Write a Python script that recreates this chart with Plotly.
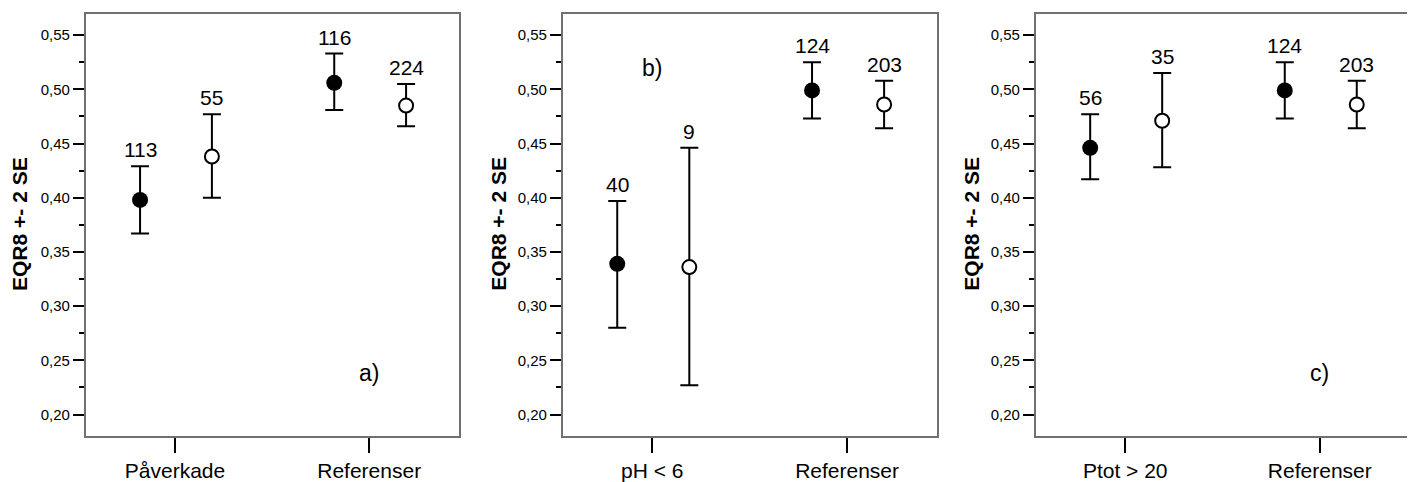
import plotly.graph_objects as go

# ---------------- data ----------------
cats_a = ["Påverkade", "Referenser"]
filled_mean_a = [0.398, 0.506]
filled_hi_a = [0.429, 0.533]
filled_lo_a = [0.367, 0.481]
filled_n_a = [113, 116]
open_mean_a = [0.438, 0.485]
open_hi_a = [0.477, 0.505]
open_lo_a = [0.400, 0.466]
open_n_a = [55, 224]

cats_b = ["pH < 6", "Referenser"]
filled_mean_b = [0.339, 0.499]
filled_hi_b = [0.397, 0.525]
filled_lo_b = [0.280, 0.473]
filled_n_b = [40, 124]
open_mean_b = [0.336, 0.486]
open_hi_b = [0.446, 0.508]
open_lo_b = [0.227, 0.464]
open_n_b = [9, 203]

cats_c = ["Ptot > 20", "Referenser"]
filled_mean_c = [0.446, 0.499]
filled_hi_c = [0.477, 0.525]
filled_lo_c = [0.417, 0.473]
filled_n_c = [56, 124]
open_mean_c = [0.471, 0.486]
open_hi_c = [0.515, 0.508]
open_lo_c = [0.428, 0.464]
open_n_c = [35, 203]

panel_labels = ["a)", "b)", "c)"]
panel_label_cat = [1, 0, 1]
panel_label_y = [0.238, 0.520, 0.238]
y_title = "EQR8 +- 2 SE"
y_ticks = [0.20, 0.25, 0.30, 0.35, 0.40, 0.45, 0.50, 0.55]

# ---------------- styling / layout ----------------
# The page body has an 8px default margin, so the figure is sized 8px smaller
# and all domains are measured from the figure's own origin.
FONT = "Liberation Sans, Arial, Helvetica, sans-serif"
BOX = "#707070"
FIG_W, FIG_H = 1407, 474
x_domains = [[0.05522, 0.32019], [0.39424, 0.66006], [0.73042, 0.99595]]
y_domain = [0.08861, 0.98734]
title_x = [0.00803, 0.34897, 0.68515]
title_y = 0.5411
OFF_FILLED = -0.18
OFF_OPEN = 0.19

panels = [
    (cats_a, filled_mean_a, filled_hi_a, filled_lo_a, filled_n_a,
     open_mean_a, open_hi_a, open_lo_a, open_n_a),
    (cats_b, filled_mean_b, filled_hi_b, filled_lo_b, filled_n_b,
     open_mean_b, open_hi_b, open_lo_b, open_n_b),
    (cats_c, filled_mean_c, filled_hi_c, filled_lo_c, filled_n_c,
     open_mean_c, open_hi_c, open_lo_c, open_n_c),
]

fig = go.Figure()
annotations = []
layout_axes = {}

for i, (cats, fm, fh, fl, fn, om, oh, ol, on) in enumerate(panels):
    xa = "x" if i == 0 else f"x{i+1}"
    ya = "y" if i == 0 else f"y{i+1}"
    pos = list(range(len(cats)))

    for means, his, los, ns, off, filled in [
        (fm, fh, fl, fn, OFF_FILLED, True),
        (om, oh, ol, on, OFF_OPEN, False),
    ]:
        xs = [p + off for p in pos]
        fig.add_trace(go.Scatter(
            x=xs, y=means, xaxis=xa, yaxis=ya, mode="markers",
            marker=dict(
                symbol="circle",
                size=16 if filled else 14,
                color="black" if filled else "white",
                line=dict(color="black", width=0 if filled else 2),
            ),
            error_y=dict(
                type="data", symmetric=False,
                array=[h - m for h, m in zip(his, means)],
                arrayminus=[m - l for m, l in zip(means, los)],
                color="black", thickness=2, width=9,
            ),
            showlegend=False, hoverinfo="skip",
        ))
        for x, h, n in zip(xs, his, ns):
            annotations.append(dict(
                x=x, y=h, xref=xa, yref=ya, text=str(n), showarrow=False,
                yanchor="bottom", xanchor="center", yshift=3,
                font=dict(family=FONT, size=21, color="black"),
            ))

    # panel letter
    annotations.append(dict(
        x=panel_label_cat[i], y=panel_label_y[i], xref=xa, yref=ya,
        text=panel_labels[i], showarrow=False, xanchor="center", yanchor="middle",
        font=dict(family=FONT, size=23, color="black"),
    ))
    # y axis title
    annotations.append(dict(
        x=title_x[i], y=title_y, xref="paper", yref="paper", text=f"<b>{y_title}</b>",
        textangle=-90, showarrow=False, xanchor="center", yanchor="middle",
        font=dict(family=FONT, size=21, color="black"),
    ))

    key_x = "xaxis" if i == 0 else f"xaxis{i+1}"
    key_y = "yaxis" if i == 0 else f"yaxis{i+1}"
    layout_axes[key_x] = dict(
        domain=x_domains[i], anchor=ya, range=[-0.46, 1.46],
        tickmode="array", tickvals=pos, ticktext=cats,
        ticks="outside", ticklen=15, tickwidth=2, tickcolor="black",
        showline=True, linecolor=BOX, linewidth=1.5, mirror=True,
        showgrid=False, zeroline=False,
        tickfont=dict(family=FONT, size=21, color="black"),
        fixedrange=True,
    )
    layout_axes[key_y] = dict(
        domain=y_domain, anchor=xa, range=[0.1799, 0.5695],
        tickmode="array", tickvals=y_ticks, tickformat=".2f",
        ticks="outside", ticklen=11, tickwidth=1.5, tickcolor="black",
        minor=dict(ticks="outside", ticklen=5, tickwidth=1.5, tickcolor="black",
                   dtick=0.025, tick0=0.2, showgrid=False),
        showline=True, linecolor=BOX, linewidth=1.5, mirror=True,
        showgrid=False, zeroline=False,
        tickfont=dict(family=FONT, size=15, color="black"),
        fixedrange=True,
    )

fig.update_layout(
    width=FIG_W, height=FIG_H,
    margin=dict(l=0, r=0, t=0, b=0),
    paper_bgcolor="white", plot_bgcolor="white",
    separators=", ",
    annotations=annotations,
    font=dict(family=FONT, color="black"),
    **layout_axes,
)

fig.write_html("out.html")
